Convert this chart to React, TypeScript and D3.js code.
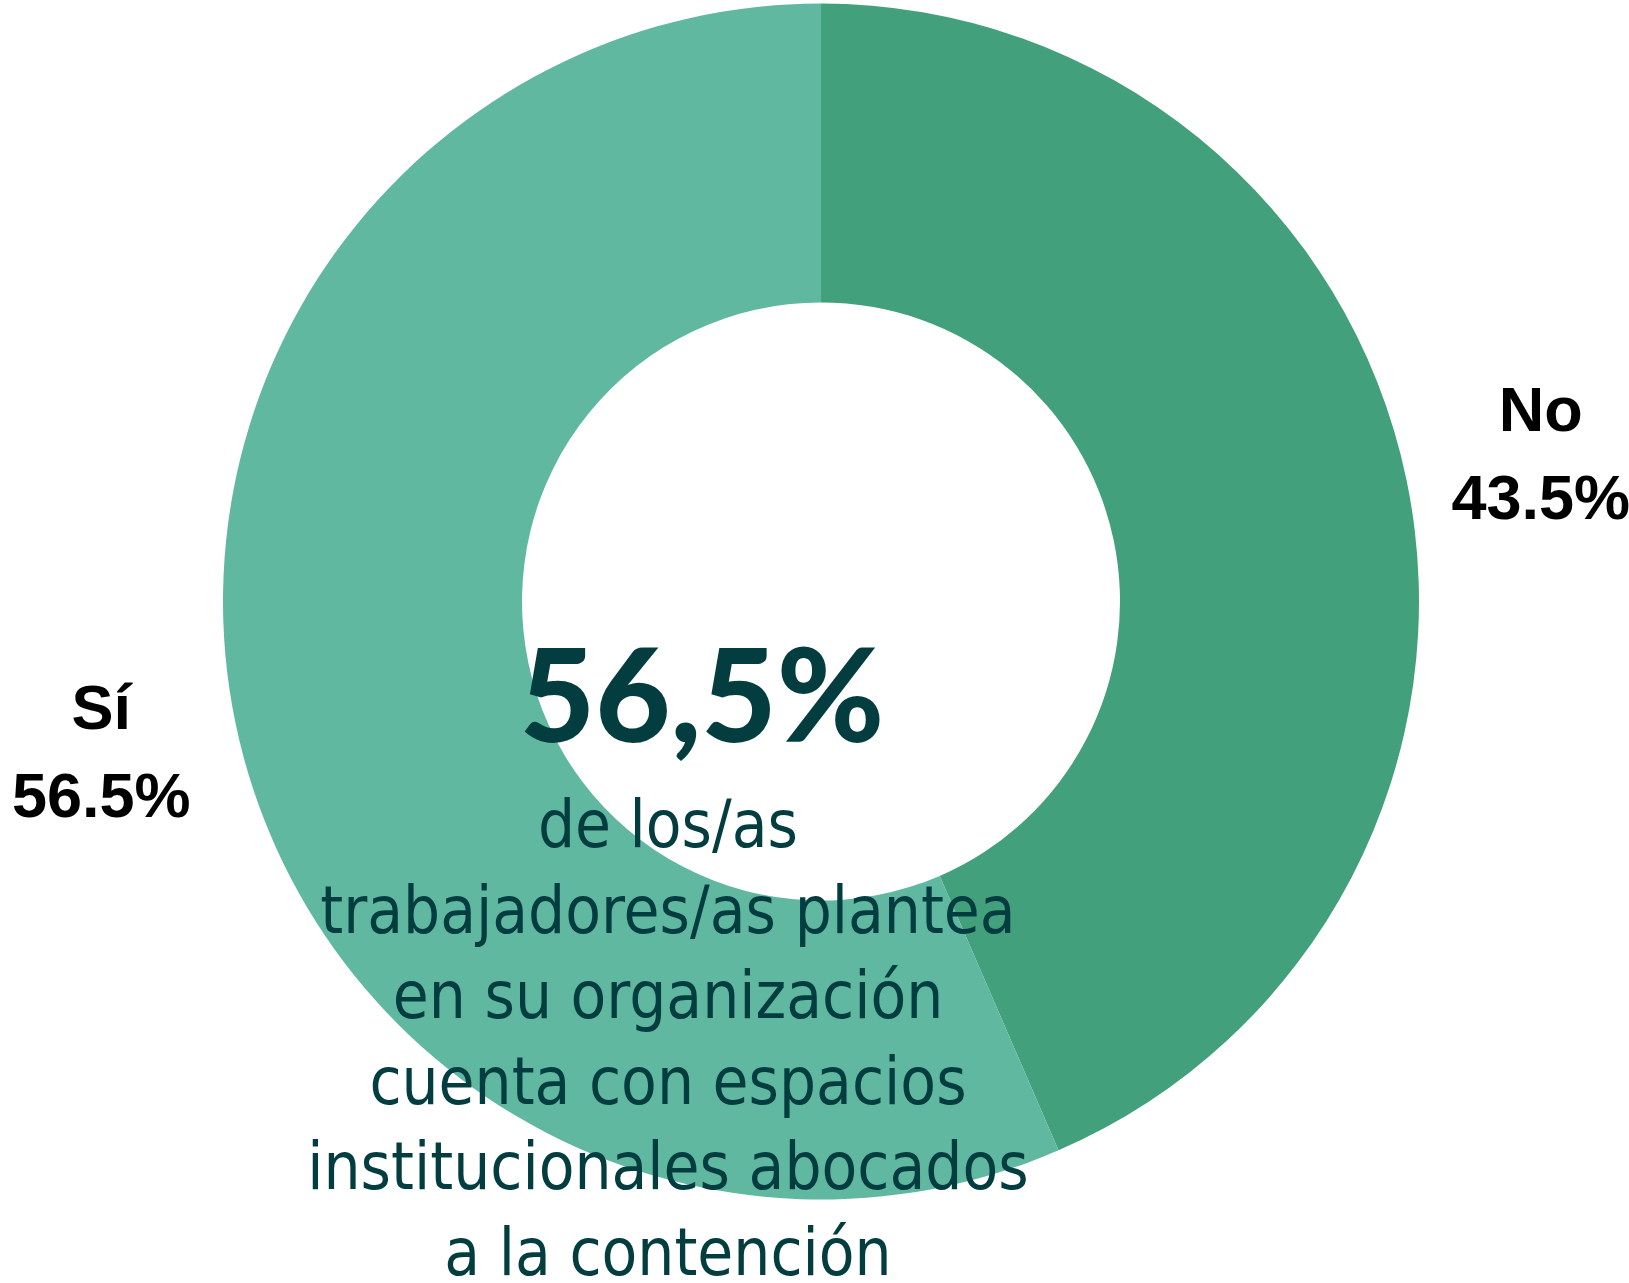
import React, { useEffect, useRef } from 'react';
import * as d3 from 'd3';

const categories = ['No', 'Sí'];
const values = [43.5, 56.5];
const labelTexts = ['43.5%', '56.5%'];
const colors = ['#43a07c', '#60b8a0'];
const headline = '56,5%';
const captionLines = [
  'de los/as',
  'trabajadores/as plantea',
  'en su organización',
  'cuenta con espacios',
  'institucionales abocados',
  'a la contención',
];

const W = 1629;
const H = 1283;

const App = () => {
  const ref = useRef<SVGSVGElement>(null);

  useEffect(() => {
    const svg = d3.select(ref.current);
    svg.selectAll('*').remove();

    const cx = 821;
    const cy = 601.5;
    const outer = 598;
    const inner = 299;

    const data = categories.map((c, i) => ({ name: c, value: values[i], label: labelTexts[i], color: colors[i] }));

    const pie = d3.pie<any>().value(d => d.value).sort(null);
    const arcs = pie(data);
    const arc = d3.arc<any>().innerRadius(inner).outerRadius(outer);
    const labelArc = d3.arc<any>().innerRadius(735).outerRadius(735);

    const g = svg.append('g').attr('transform', `translate(${cx},${cy})`);

    g.selectAll('path.slice')
      .data(arcs)
      .enter().append('path')
      .attr('class', 'slice')
      .attr('d', arc)
      .attr('fill', d => d.data.color);

    const labels = g.selectAll('g.lbl')
      .data(arcs)
      .enter().append('g')
      .attr('class', 'lbl')
      .attr('transform', d => `translate(${labelArc.centroid(d)})`);

    labels.append('text')
      .attr('text-anchor', 'middle')
      .attr('y', -21.5)
      .attr('font-family', "'Liberation Sans', Arial, sans-serif")
      .attr('font-weight', 'bold')
      .attr('font-size', 63)
      .attr('fill', '#000')
      .text(d => d.data.name);

    labels.append('text')
      .attr('text-anchor', 'middle')
      .attr('y', 66.5)
      .attr('font-family', "'Liberation Sans', Arial, sans-serif")
      .attr('font-weight', 'bold')
      .attr('font-size', 63)
      .attr('fill', '#000')
      .text(d => d.data.label);

    // center annotation
    svg.append('text')
      .attr('x', 702)
      .attr('y', 742)
      .attr('text-anchor', 'middle')
      .attr('font-family', 'Lato, sans-serif')
      .attr('font-weight', 900)
      .attr('font-size', 130)
      .attr('fill', '#033d40')
      .text(headline);

    svg.append('g')
      .selectAll('text')
      .data(captionLines)
      .enter().append('text')
      .attr('x', 668)
      .attr('y', (d, i) => 847 + i * 85.5)
      .attr('text-anchor', 'middle')
      .attr('font-family', "'DejaVu Sans Condensed', 'DejaVu Sans', sans-serif")
      .style('font-stretch', 'condensed')
      .attr('font-size', 65)
      .attr('fill', '#033d40')
      .text(d => d);
  }, []);

  return (
    <div style={{ position: 'absolute', left: 0, top: 0 }}>
      <svg ref={ref} width={W} height={H} style={{ display: 'block', background: '#fff' }}></svg>
    </div>
  );
};

export default App;
